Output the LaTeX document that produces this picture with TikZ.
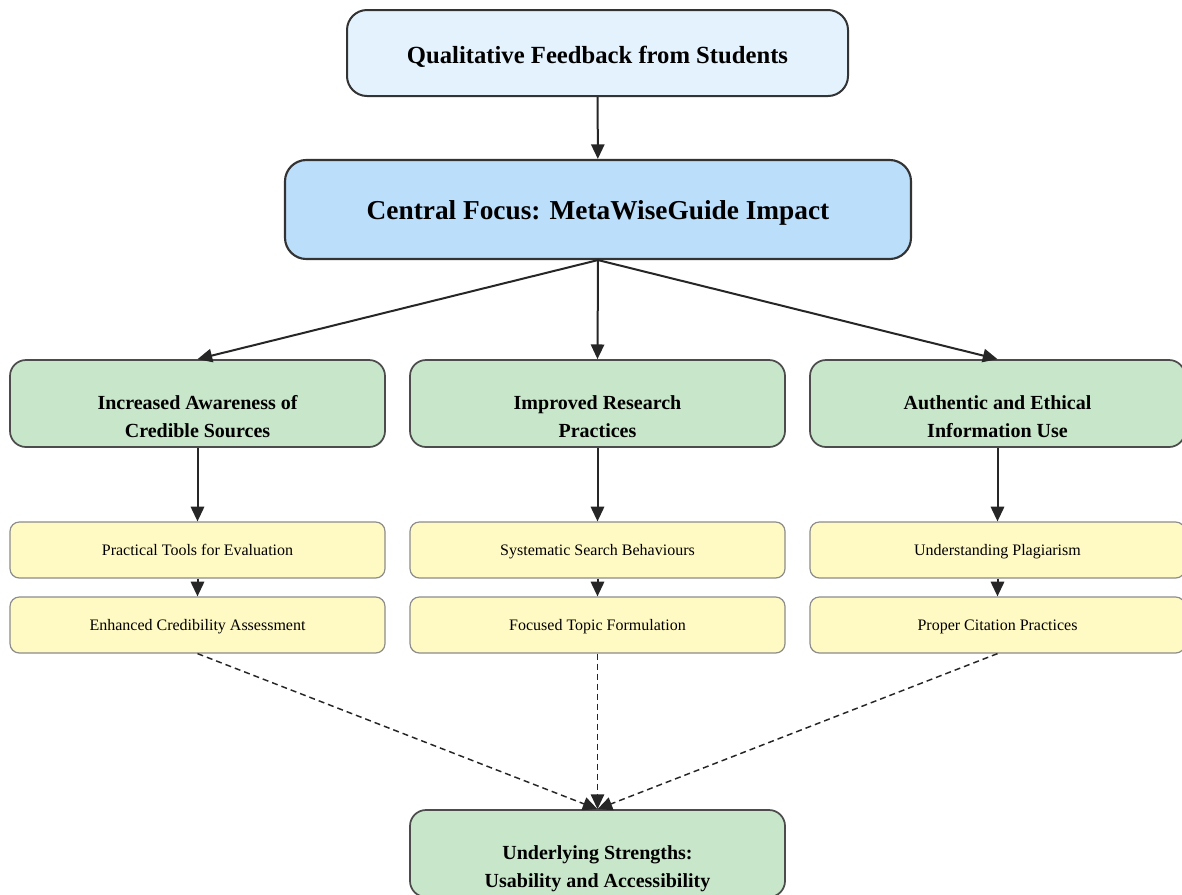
\documentclass[tikz,border=0pt]{standalone}
\usepackage{fontspec}
\setmainfont{Liberation Serif}
\usetikzlibrary{arrows.meta}

\begin{document}
\begin{tikzpicture}[
  x=0.75pt,
  y=-0.75pt, % <-- one unit per pixel, y downwards
  >={Triangle[length=11pt,width=10pt]},
  every node/.style={align=center, inner sep=0pt},
  topbox/.style={draw=black!80, line width=1.5pt, rounded corners=15pt,
    fill=topblue, minimum width=375.75pt, minimum height=64.5pt,
    text height=20pt, text depth=4pt,
    font=\fontsize{18.5}{22}\bfseries},
  focusbox/.style={draw=black!80, line width=1.6pt, rounded corners=16pt,
    fill=focusblue, minimum width=469.5pt, minimum height=74.25pt,
    text height=20pt, text depth=4.5pt,
    font=\fontsize{20.5}{24}\bfseries},
  themebox/.style={draw=black!70, line width=1.3pt, rounded corners=12pt,
    fill=themegreen, minimum width=281.25pt, minimum height=65.25pt,
    text height=57.75pt, text depth=7.5pt, % <-- text sits low in the box
    font=\fontsize{15}{20.7}\bfseries},
  subbox/.style={draw=black!45, line width=0.9pt, rounded corners=7pt,
    fill=subyellow, minimum width=281.25pt, minimum height=42pt,
    text height=11.3pt, text depth=2.6pt,
    font=\fontsize{12}{14}\selectfont},
  link/.style={->, draw=black!85, line width=1.5pt},
  soft/.style={->, draw=black!85, line width=1.1pt, dash pattern=on 4.5pt off 3pt}
]
\definecolor{topblue}{HTML}{E3F2FD}
\definecolor{focusblue}{HTML}{BBDEFB}
\definecolor{themegreen}{HTML}{C8E6C9}
\definecolor{subyellow}{HTML}{FFF9C4}

\useasboundingbox (0,0) rectangle (1182,894);

% Top of the chart
\node[topbox] (qfb) at (597.5,53) {Qualitative Feedback from Students};
\node[focusbox] (focus) at (598,209.5) {Central Focus: MetaWiseGuide Impact};

% --- Themes ---
\node[themebox] (aware) at (197.5,403.5) {Increased Awareness of\\Credible Sources};
\node[themebox] (research) at (597.5,403.5) {Improved Research\\Practices};
\node[themebox] (ethic) at (997.5,403.5) {Authentic and Ethical\\Information Use};

% --- Sub-themes ---
\node[subbox] (tools) at (197.5,550) {Practical Tools for Evaluation};
\node[subbox] (cred) at (197.5,625) {Enhanced Credibility Assessment};
\node[subbox] (search) at (597.5,550) {Systematic Search Behaviours};
\node[subbox] (topic) at (597.5,625) {Focused Topic Formulation};
\node[subbox] (plag) at (997.5,550) {Understanding Plagiarism};
\node[subbox] (cite) at (997.5,625) {Proper Citation Practices};

% Bottom box (cut by the page)
\node[themebox] (strengths) at (597.5,853.5) {Underlying Strengths:\\Usability and Accessibility};

% Connectors
\draw[link] (qfb) -- (focus);
\draw[link] (focus.south) -- (aware.north);
\draw[link] (focus.south) -- (research.north);
\draw[link] (focus.south) -- (ethic.north);
\draw[link] (aware) -- (tools);
\draw[link] (research) -- (search);
\draw[link] (ethic) -- (plag);
\draw[link] (tools) -- (cred);
\draw[link] (search) -- (topic);
\draw[link] (plag) -- (cite);
\draw[soft] (cred.south) -- (strengths.north);
\draw[soft] (topic.south) -- (strengths.north);
\draw[soft] (cite.south) -- (strengths.north);

\end{tikzpicture}
\end{document}
